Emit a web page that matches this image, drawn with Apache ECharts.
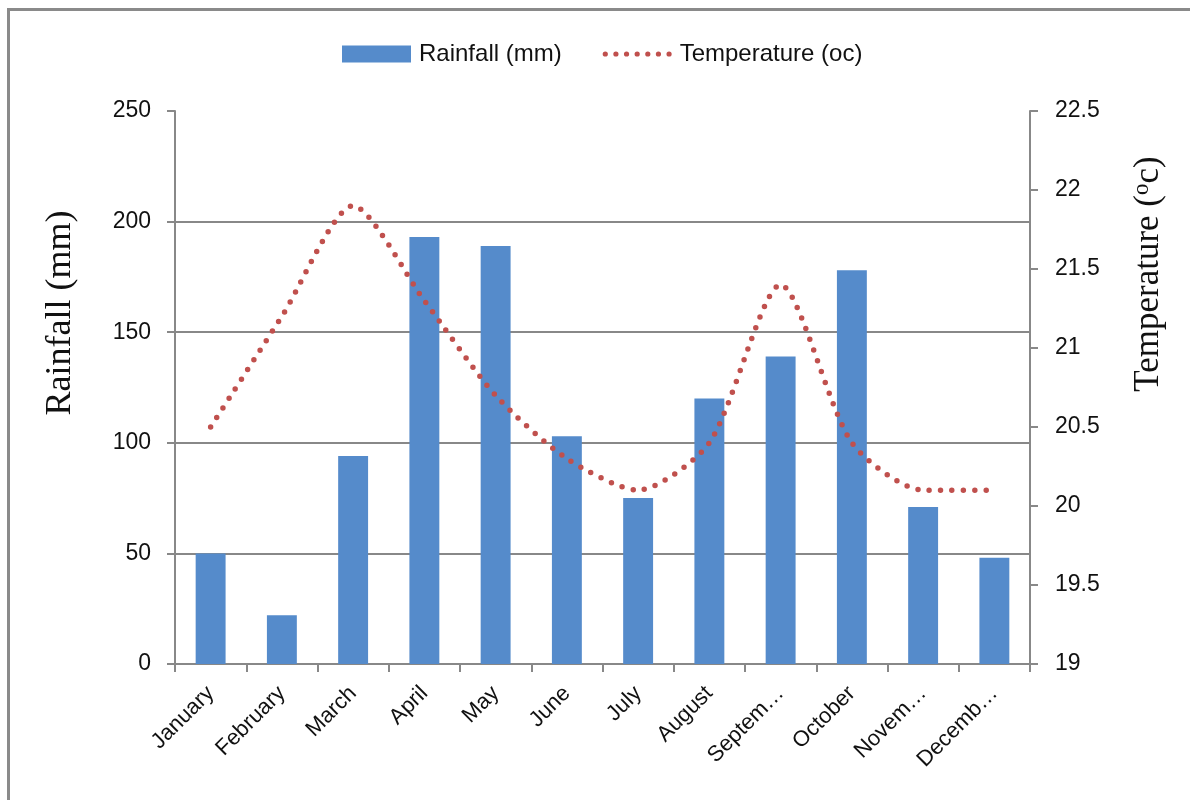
<!DOCTYPE html>
<html><head><meta charset="utf-8">
<script src="https://cdn.jsdelivr.net/npm/echarts@6/dist/echarts.min.js"></script>
<style>html,body{margin:0;padding:0;background:#fff}#c{width:1190px;height:800px}</style>
</head><body><div id="c"></div>
<script>
const months = ['January','February','March','April','May','June','July','August','Septem…','October','Novem…','Decemb…'];
const rainfall = [50, 22, 94, 193, 189, 103, 75, 120, 139, 178, 71, 48];
const temperature = [20.5, 21.2, 21.9, 21.3, 20.7, 20.3, 20.1, 20.4, 21.4, 20.4, 20.1, 20.1];
const rainTicks = {min: 0, max: 250, interval: 50};
const tempTicks = {min: 19, max: 22.5, interval: 0.5};

const font = 'Liberation Sans';
const axisGray = '#888888';
const lineRed = '#C0504D';

// dotted legend icon (7 round dots)
let dotPath = 'path://';
for (let i = 0; i < 7; i++) {
  const cx = 2.7 + 11 * i;
  dotPath += 'M' + (cx - 2.7) + ' 2.7a2.7 2.7 0 1 0 5.4 0a2.7 2.7 0 1 0 -5.4 0Z';
}

const chart = echarts.init(document.getElementById('c'), null, {renderer: 'canvas'});
chart.setOption({
  animation: false,
  backgroundColor: '#fff',
  grid: {left: 175, right: 160, top: 111, bottom: 136, containLabel: false},
  legend: {
    left: 337, top: 37, itemWidth: 69, itemHeight: 17, itemGap: 41,
    textStyle: {fontFamily: font, fontSize: 24, color: '#111', padding: [0, 0, 0, 3]},
    data: [
      {name: 'Rainfall (mm)', icon: 'rect'},
      {name: 'Temperature (oc)', icon: dotPath, itemStyle: {color: lineRed}}
    ]
  },
  xAxis: {
    type: 'category', data: months,
    axisLine: {lineStyle: {color: axisGray, width: 2}},
    axisTick: {show: true, length: 8, lineStyle: {color: axisGray, width: 2}},
    axisLabel: {rotate: 45, fontFamily: font, fontSize: 22, color: '#111', margin: 26, interval: 0}
  },
  yAxis: [{
    type: 'value', min: rainTicks.min, max: rainTicks.max, interval: rainTicks.interval,
    axisLine: {show: true, lineStyle: {color: axisGray, width: 2}},
    axisTick: {show: true, length: 8, lineStyle: {color: axisGray, width: 2}},
    axisLabel: {fontFamily: font, fontSize: 23, color: '#111', margin: 24},
    splitLine: {show: true, lineStyle: {color: [axisGray, axisGray, axisGray, axisGray, axisGray, 'rgba(0,0,0,0)'], width: 2}}
  }, {
    type: 'value', min: tempTicks.min, max: tempTicks.max, interval: tempTicks.interval,
    position: 'right',
    axisLine: {show: true, lineStyle: {color: axisGray, width: 2}},
    axisTick: {show: true, length: 8, lineStyle: {color: axisGray, width: 2}},
    axisLabel: {fontFamily: font, fontSize: 23, color: '#111', margin: 25},
    splitLine: {show: false}
  }],
  series: [{
    name: 'Rainfall (mm)', type: 'bar', data: rainfall, barWidth: '42%',
    itemStyle: {color: '#558BCB'}
  }, {
    name: 'Temperature (oc)', type: 'line', yAxisIndex: 1, data: temperature,
    smooth: 0.25, symbol: 'none',
    lineStyle: {color: lineRed, width: 5.5, type: [0, 11.4], cap: 'round'},
    itemStyle: {color: lineRed}
  }],
  graphic: [
    {type: 'line', shape: {x1: 8, y1: 9.5, x2: 1190, y2: 9.5}, style: {stroke: '#8a8a8a', lineWidth: 3}},
    {type: 'line', shape: {x1: 8.5, y1: 8, x2: 8.5, y2: 800}, style: {stroke: '#8a8a8a', lineWidth: 3}},
    {type: 'text', x: 61, y: 313, rotation: Math.PI / 2,
      style: {text: 'Rainfall (mm)', font: '36px "Liberation Serif"', fill: '#111', align: 'center', verticalAlign: 'middle'}},
    {type: 'text', x: 1149, y: 274, rotation: Math.PI / 2,
      style: {text: '{a|Temperature (}{s|o}{a|c)}', fill: '#111', align: 'center', verticalAlign: 'middle',
        rich: {
          a: {fontFamily: 'Liberation Serif', fontSize: 35, lineHeight: 44, fill: '#111'},
          s: {fontFamily: 'Liberation Serif', fontSize: 23, lineHeight: 44, verticalAlign: 'top', padding: [3, 0, 0, 0], fill: '#111'}
        }}}
  ]
});
</script></body></html>
